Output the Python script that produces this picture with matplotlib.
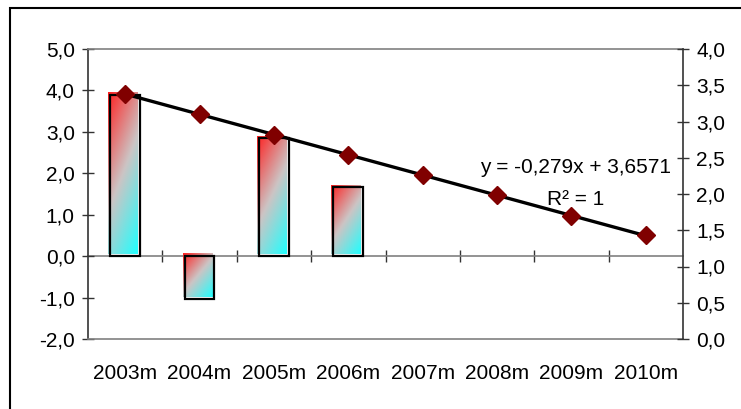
import numpy as np
import matplotlib
matplotlib.use("Agg")
import matplotlib.pyplot as plt
from matplotlib.ticker import FuncFormatter, MultipleLocator
from matplotlib.patches import Rectangle
from matplotlib.transforms import ScaledTranslation

# data
years = ["2003m", "2004m", "2005m", "2006m", "2007m", "2008m", "2009m", "2010m"]
bar_vals = [3.89, -1.04, 2.84, 1.66]          # left axis, first four years only
line_vals = [3.38, 3.10, 2.82, 2.54, 2.26, 1.98, 1.70, 1.43]  # right axis

plt.rcParams['font.family'] = ['Liberation Sans', 'DejaVu Sans']
plt.rcParams['font.size'] = 15

def comma(v, pos):
    return "{:.1f}".format(v).replace('.', ',')

fig = plt.figure(figsize=(7.41, 4.09), dpi=100)
ax = fig.add_axes([88/741, 1-339/409, (683-88)/741, (339-49)/409])
ax2 = ax.twinx()

x = np.arange(len(years))
ax.set_xlim(-0.5, len(years) - 0.5)
ax.set_ylim(-2, 5)

# gradient fill (red top-left -> light grey -> cyan bottom-right), offset like the original
red = np.array([1.0, 0.13, 0.13])
mid = np.array([0.80, 0.77, 0.77])
cyan = np.array([0.13, 1.0, 1.0])

def gradient(wpx, hpx, n=80):
    u, v = np.meshgrid(np.linspace(0, 1, n), np.linspace(0, 1, n))
    t = 0.5*(u + v)/2 + 0.5*(u*wpx + v*hpx)/(wpx + hpx)
    t = t[..., None]
    lo = red + (mid - red)*np.clip(t*2, 0, 1)
    hi = mid + (cyan - mid)*np.clip(t*2 - 1, 0, 1)
    return np.where(t < 0.5, lo, hi)

shift = ax.transData + ScaledTranslation(-2/100, 2/100, fig.dpi_scale_trans)
w = 0.4
for i, val in enumerate(bar_vals):
    top, bot = max(val, 0), min(val, 0)
    p0 = ax.transData.transform((x[i]-w/2, bot))
    p1 = ax.transData.transform((x[i]+w/2, top))
    img = gradient(abs(p1[0]-p0[0]), abs(p1[1]-p0[1]))
    ax.imshow(img, extent=(x[i]-w/2, x[i]+w/2, bot, top), aspect='auto',
              transform=shift, zorder=2, interpolation='bilinear')
ax.bar(x[:len(bar_vals)], bar_vals, width=w, facecolor='none',
       edgecolor='black', linewidth=1.6, zorder=3)

ax.set_xlim(-0.5, len(years) - 0.5)
ax.set_ylim(-2, 5)
ax.yaxis.set_major_locator(MultipleLocator(1))
ax.yaxis.set_major_formatter(FuncFormatter(comma))
ax.set_xticks(x)
ax.set_xticklabels(years)
ax.tick_params(axis='x', length=0, pad=18)
ax.tick_params(axis='y', direction='inout', length=9, width=1, colors='#333333',
               labelcolor='black', pad=5)

for s in ['top', 'bottom']:
    ax.spines[s].set_color('#808080')
    ax.spines[s].set_linewidth(1.2)
ax.spines['left'].set_color('#333333')
ax.spines['left'].set_linewidth(1.2)
ax.spines['right'].set_visible(False)

# category axis line at zero
zx = ax.secondary_xaxis(2/7)
zx.set_xticks(np.arange(0.5, len(years) - 1, 1))
zx.set_xticklabels([])
zx.tick_params(direction='inout', length=9, width=1, colors='#333333')
zx.spines['bottom'].set_color('#808080')
zx.spines['bottom'].set_linewidth(1.2)

# right axis: points and linear trendline
ax2.plot(x, line_vals, linestyle='none', marker='D', markersize=9,
         color='#800000', zorder=4)
k, b = np.polyfit(x + 1, line_vals, 1)
ax2.plot(x, k*(x + 1) + b, color='black', linewidth=2.4, zorder=3)
ax2.set_ylim(0, 4)
ax2.yaxis.set_major_locator(MultipleLocator(0.5))
ax2.yaxis.set_major_formatter(FuncFormatter(comma))
ax2.tick_params(axis='y', direction='inout', length=9, width=1, colors='#333333',
                labelcolor='black', pad=5)
for s in ['top', 'bottom', 'left']:
    ax2.spines[s].set_visible(False)
ax2.spines['right'].set_color('#333333')
ax2.spines['right'].set_linewidth(1.2)

ax2.text(6.05, 2.36, "y = -0,279x + 3,6571", ha='center', va='center')
ax2.text(6.05, 1.93, "R² = 1", ha='center', va='center')

# outer chart border
fig.add_artist(Rectangle((9.5/741, -0.1), 1.0, 1.1 - 8.5/409, transform=fig.transFigure,
                         fill=False, edgecolor='black', linewidth=1.5, clip_on=False))

fig.savefig('out.png', dpi=100)
